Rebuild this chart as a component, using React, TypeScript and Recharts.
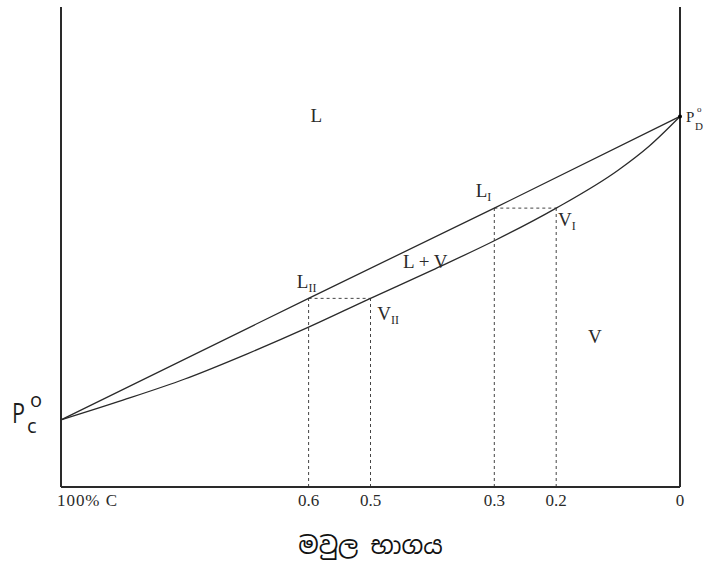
import React from 'react';
import {
  ComposedChart, Line, XAxis, YAxis, ReferenceLine, ReferenceDot, Label,
} from 'recharts';

// mole fraction of C (x axis runs from 100% C on the left to 0 on the right)
const vapourFractionC = [1, 0.9, 0.8, 0.7, 0.6, 0.5, 0.4, 0.3, 0.2, 0.1, 0.05, 0];
const vapourPressure = [14, 18.1, 22.5, 27.7, 33.3, 39.3, 45.2, 51.3, 58.1, 66.0, 71.0, 77.2];

const liquidFractionC = [1, 0.6, 0.3, 0];
const liquidPressure = [14, 39.3, 58.1, 77.2];

const tickValues = [1, 0.6, 0.5, 0.3, 0.2, 0];

// tie lines: liquid composition, vapour composition, pressure
const tieLiquid = [0.6, 0.3];
const tieVapour = [0.5, 0.2];
const tiePressure = [39.3, 58.1];

const regionLabels = [
  { x: 0.597, p: 76.0, text: 'L', sub: '' },
  { x: 0.33, p: 60.4, text: 'L', sub: 'I' },
  { x: 0.197, p: 54.4, text: 'V', sub: 'I' },
  { x: 0.4475, p: 45.6, text: 'L + V', sub: '' },
  { x: 0.619, p: 41.5, text: 'L', sub: 'II' },
  { x: 0.489, p: 34.8, text: 'V', sub: 'II' },
  { x: 0.1486, p: 30.0, text: 'V', sub: '' },
];

const vapourData = vapourFractionC.map((x, i) => ({ x, p: vapourPressure[i] }));
const liquidData = liquidFractionC.map((x, i) => ({ x, p: liquidPressure[i] }));

const SERIF = 'Liberation Serif, Times New Roman, serif';
const INK = '#2a2a2a';

const XTick = (props: any) => {
  const { x, y, payload } = props;
  const isLeft = payload.value === 1;
  const text = isLeft ? '100% C' : String(payload.value);
  return (
    <text
      x={isLeft ? x - 4 : x}
      y={y + 11}
      textAnchor={isLeft ? 'start' : 'middle'}
      style={{ fontFamily: SERIF, fontSize: 17 }}
      fill={INK}
      {...(isLeft ? { textLength: 60, lengthAdjust: 'spacing' } : {})}
    >
      {text}
    </text>
  );
};

const regionShape = (lab: any) => (props: any) => (
  <text x={props.cx} y={props.cy} style={{ fontFamily: SERIF, fontSize: 19 }} fill={INK}>
    {lab.text}
    {lab.sub && (
      <tspan style={{ fontSize: 12 }} dy={4}>{lab.sub}</tspan>
    )}
  </text>
);

const PdShape = (props: any) => {
  const { cx, cy } = props;
  return (
    <g fill={INK} style={{ fontFamily: SERIF }}>
      <circle cx={cx} cy={cy} r={2} fill="#000" />
      <text x={cx + 6} y={cy + 6} style={{ fontSize: 15 }}>P</text>
      <text x={cx + 15} y={cy + 14} style={{ fontSize: 11 }}>D</text>
      <text x={cx + 17} y={cy - 4} style={{ fontSize: 9 }}>o</text>
    </g>
  );
};

const PcShape = (props: any) => {
  const { cx, cy } = props;
  const font = 'Open Sans, Noto Sans, sans-serif';
  return (
    <g fill="#1d1d1d" style={{ fontFamily: font }}>
      <text x={cx - 49} y={cy + 3} style={{ fontSize: 27 }} textLength={13} lengthAdjust="spacingAndGlyphs">P</text>
      <text x={cx - 34} y={cy + 13} style={{ fontSize: 20 }}>c</text>
      <text x={cx - 31} y={cy - 13} style={{ fontSize: 20 }}>o</text>
    </g>
  );
};

export default function App() {
  return (
    <div style={{ position: 'absolute', left: 0, top: 0, width: 710, height: 565, background: '#fff' }}>
      <ComposedChart width={710} height={565} margin={{ top: 7, right: 30, bottom: 0, left: 61 }}>
        <XAxis
          type="number"
          dataKey="x"
          domain={[0, 1]}
          reversed
          ticks={tickValues}
          interval={0}
          height={78}
          tickLine={false}
          axisLine={{ stroke: INK, strokeWidth: 2 }}
          tick={<XTick />}
        >
          <Label
            value="මවුල භාගය"
            position="insideBottom"
            offset={11}
            style={{ fontSize: 24, fontFamily: "'Noto Sans Sinhala', 'Noto Serif Sinhala', 'Iskoola Pota', 'Noto Sans', sans-serif", fill: '#111' }}
          />
        </XAxis>
        <YAxis type="number" domain={[0, 100]} hide width={0} />

        <ReferenceLine x={1} stroke={INK} strokeWidth={2} />
        <ReferenceLine x={0} stroke={INK} strokeWidth={2} />

        {tieLiquid.map((xl, i) => (
          <ReferenceLine
            key={`h${i}`}
            segment={[{ x: xl, y: tiePressure[i] }, { x: tieVapour[i], y: tiePressure[i] }]}
            stroke="#444"
            strokeDasharray="3 3"
          />
        ))}
        {tieLiquid.map((xl, i) => (
          <ReferenceLine
            key={`vl${i}`}
            segment={[{ x: xl, y: 0 }, { x: xl, y: tiePressure[i] }]}
            stroke="#444"
            strokeDasharray="3 3"
          />
        ))}
        {tieVapour.map((xv, i) => (
          <ReferenceLine
            key={`vv${i}`}
            segment={[{ x: xv, y: 0 }, { x: xv, y: tiePressure[i] }]}
            stroke="#444"
            strokeDasharray="3 3"
          />
        ))}

        <Line
          data={liquidData}
          dataKey="p"
          type="linear"
          stroke={INK}
          strokeWidth={1.3}
          dot={false}
          isAnimationActive={false}
        />
        <Line
          data={vapourData}
          dataKey="p"
          type="monotone"
          stroke={INK}
          strokeWidth={1.3}
          dot={false}
          isAnimationActive={false}
        />

        {regionLabels.map((lab, i) => (
          <ReferenceDot key={`lab${i}`} x={lab.x} y={lab.p} r={0} shape={regionShape(lab)} />
        ))}
        <ReferenceDot x={0} y={liquidPressure[3]} r={2} shape={PdShape} ifOverflow="visible" />
        <ReferenceDot x={1} y={liquidPressure[0]} r={0} shape={PcShape} ifOverflow="visible" />
      </ComposedChart>
    </div>
  );
}
